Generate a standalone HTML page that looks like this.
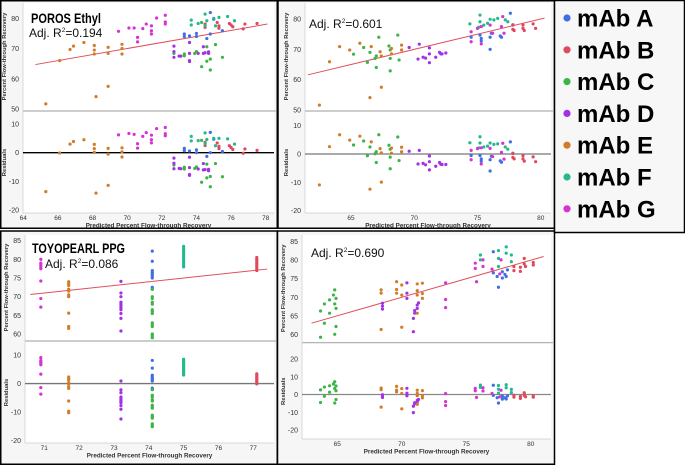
<!DOCTYPE html>
<html><head><meta charset="utf-8"><style>
body{margin:0;background:#fff;}
svg{display:block;font-family:"Liberation Sans",sans-serif;}
</style></head><body>
<svg id="fig" width="685" height="465" viewBox="0 0 685 465" xmlns="http://www.w3.org/2000/svg">
<g id="panels"></g>
<g id="legend">
<rect x="554.5" y="0.5" width="130" height="232" fill="#f7f7f7" stroke="#000" stroke-width="1.5"/>
</g>
</svg>
<script>
// ---- data: [predicted, actual] per mAb, per panel ----
const groups = ["A","B","C","D","E","F","G"];
const groupNames = ["mAb A","mAb B","mAb C","mAb D","mAb E","mAb F","mAb G"];
const colors = {A:"#3f6fe3",B:"#e0485c",C:"#3cb446",D:"#a232e6",E:"#d27c2a",F:"#22b98f",G:"#d632d4"};

const p1A=[[73.3,74.8],[73.3,74],[73.6,74.2],[74,75],[74,74],[74.6,73.3],[74.8,74.8],[74.8,81.9],[75.5,75.9],[75,79.7]];
const p1B=[[74.5,78.1],[74.5,77],[75.2,78.6],[75.3,77.5],[75.3,76.7],[75.9,78.3],[76,77.8],[76.1,77.2],[76.8,78.1],[76.7,76.5],[77.5,78.3]];
const p1C=[[72.7,68.4],[73.3,68.2],[73.3,67.6],[73.9,68.4],[74,69],[74.3,64],[74.6,70.6],[74.6,65.8],[74.8,62.9],[74.8,66.5],[75.1,71.3],[75.5,67.1],[74.3,78.6]];
const p1D=[[72.7,70.8],[72.7,69],[72.7,67.1],[73,67.5],[73.1,67.5],[73.6,72],[73.6,68.4],[73.6,65.7],[73.6,66],[74.1,68.4],[74.4,70.6],[74.4,68.4],[74.5,68.6],[74.7,68.4],[74.7,68.9]];
const p1E=[[65.3,51.7],[66.1,66],[66.7,69.7],[66.9,70.8],[67.5,72],[68.1,71],[68.1,69.5],[68.1,68.2],[68.2,54.1],[68.9,70.4],[68.9,68.4],[68.9,57.5],[69.7,71.4],[69.7,70],[69.7,68.2]];
const p1F=[[73.7,79.4],[73.7,77.8],[74.1,78.3],[74.5,81.4],[74.6,79.2],[75,80],[75.3,80.3],[75.8,80.6],[76.2,79.2],[75.1,77.5],[74.5,77.6]];
const p1G=[[69.5,75.7],[70.1,76.8],[70.4,76.8],[70.6,73.7],[70.6,72.2],[70.9,76.6],[71.1,78.1],[71.4,77.5],[71.4,75.9],[71.4,74.8],[71.7,80.1],[72.2,81],[72.2,78.8],[72.2,78.1]];

const p2A=[[74.5,74],[75.2,74.7],[75.3,73.6],[75.3,72.8],[76,70],[76,74],[76.1,75.3],[76.8,74.4],[76.9,74],[77.6,81.9],[77.8,78.1]];
const p2B=[[77.8,78],[77.8,76.6],[78.6,78],[78.6,76.9],[78.7,76.2],[79.4,78.4],[79.6,76.9],[77.9,76.2]];
const p2C=[[65.2,68.4],[66,70.6],[66.3,65.7],[66.5,69],[66.9,67],[67,64],[67.2,74],[68,71.1],[68.1,69.8],[68.1,67],[68.1,62.9],[68.7,74.7],[68.8,66.5],[67,67.8]];
const p2D=[[69.6,70.6],[70.4,71.7],[70.3,66.8],[70.7,67.4],[70.9,67.1],[71.2,70.5],[71.2,65.6],[71.2,68.5],[71.7,67.4],[72,69],[72.1,68.5],[72.2,68.5],[72.5,68.8]];
const p2E=[[62.5,51.6],[63.3,65.9],[64.1,70.9],[64.9,69.8],[65.7,72],[66.6,70.9],[66.5,54.1],[67.4,57.5],[67.4,67.8],[67.3,69.2],[68.2,68.5],[68.2,70.3],[69,71.4],[69,69.8]];
const p2F=[[74.4,78.4],[75.2,81.3],[75.2,79.1],[75.5,78],[75.8,78.6],[76,79.9],[76.3,79.7],[76.6,80.2],[77.2,79.7],[77.4,79.1],[75.1,77.3]];
const p2G=[[74.5,72.5],[74.5,75.8],[75,76.9],[75.3,77.5],[75.3,71.8],[76,78],[76.2,75.3],[76.9,77.5],[77,80.8],[77.1,75.3]];

const p3A=[[74.1,82.2],[74.1,79.5],[74.1,77],[74.1,76.5],[74.1,76],[74.1,75.5],[74.1,75],[74.1,72.5],[74.1,72]];
const p3B=[[77.1,80.5],[77.1,80],[77.1,79.5],[77.1,79],[77.1,78.5],[77.1,78],[77.1,77.5],[77.1,77]];
const p3C=[[74.1,72],[74.1,70],[74.1,69.5],[74.1,68.5],[74.1,68],[74.1,66.5],[74.1,66],[74.1,65.5],[74.1,63],[74.1,62.5],[74.1,62],[74.1,60],[74.1,59.5],[74.1,59]];
const p3D=[[73.2,74.1],[73.2,71],[73.2,70],[73.2,68.5],[73.2,68],[73.2,67.5],[73.2,67],[73.2,66.5],[73.2,65.5],[73.2,64.2],[73.2,60.8]];
const p3E=[[71.7,74],[71.7,73.5],[71.7,73],[71.7,72],[71.7,71.5],[71.7,70.5],[71.7,70],[71.7,65.6],[71.7,62],[71.7,61.5]];
const p3F=[[75,83.5],[75,83],[75,82.5],[75,82],[75,81.5],[75,81],[75,80.5],[75,80],[75,79.5],[75,79],[75,78.5],[75,78]];
const p3G=[[70.9,80],[70.9,79],[70.9,78.5],[70.9,78],[70.9,77.5],[70.9,74.2],[70.9,69.5],[70.9,67.2]];

const p4A=[[77.1,82.3],[77.4,75.6],[77.5,72.7],[77.8,76.9],[78.1,75.6],[78.2,77.4],[77.8,75.2],[78,76.2],[77.1,76.6]];
const p4B=[[78.7,78.3],[78.7,77.2],[79.2,78.1],[79.2,77],[79.5,80.5],[79.5,79],[79.6,78.3],[80.2,79.4],[80.2,78.7]];
const p4C=[[63.7,66.3],[63.7,59.2],[64,68.2],[64,63],[64.4,69.3],[64.4,65.7],[64.8,72],[64.8,68.2],[64.9,69.7],[64.9,67],[64.9,62.1],[64.8,60],[64.7,70.6]];
const p4D=[[68.5,68.4],[68.5,67.6],[68.5,66.8],[70.4,73.9],[70.4,71.1],[70.4,69.7],[70.9,64.3],[70.9,60.7],[71,65.7],[71.2,67],[71.2,67.9],[71.3,68.5],[71,66.4]];
const p4E=[[68.4,72],[68.4,71.1],[68.4,61.3],[69.6,74.2],[69.6,72.1],[69.6,71.1],[70,73.3],[70,70.6],[70,61.9],[71.2,73.6],[71.2,71.8],[71.2,70.6],[71.2,65.7],[71.6,73.8],[71.6,71],[71.6,69.7]];
const p4F=[[76.1,81.4],[76.1,80.1],[77.5,82.6],[77.5,80.5],[78.1,83.6],[78.1,81.9],[78.5,81.4],[78.5,79.6],[77.5,78.3]];
const p4G=[[73.4,73.9],[73.4,69.4],[73.4,67.2],[75.7,79.2],[75.7,77.8],[75.8,74.2],[76.3,80.1],[76.3,78.3],[77.7,80.1],[77,77.6],[77.6,76.3]];

const p1XTicks=[64,66,68,70,72,74,76,78], p1YTicks=[50,60,70,80], p1RTicks=[-20,-10,0,10];
const p2XTicks=[65,70,75,80], p2YTicks=[50,60,70,80], p2RTicks=[-20,-10,0,10];
const p3XTicks=[71,72,73,74,75,76,77], p3YTicks=[60,65,70,75,80,85], p3RTicks=[-20,-10,0,10];
const p4XTicks=[65,70,75,80], p4YTicks=[60,65,70,75,80,85], p4RTicks=[-20,-10,0,10,20];
const fitRanges=[[64.7,78.1],[61.6,80.3],[70.6,77.4],[63,81]];
const titles=["POROS Ethyl","","TOYOPEARL PPG",""];
const r2Labels=["0.194","0.601","0.086","0.690"];

// ---- layout ----
const NS="http://www.w3.org/2000/svg";
function mk(tag,attrs,parent){const e=document.createElementNS(NS,tag);for(const k in attrs)e.setAttribute(k,attrs[k]);parent.appendChild(e);return e;}
function lin(v0,p0,v1,p1){return v=>p0+(v-v0)*(p1-p0)/(v1-v0);}

const panels=[
 {box:[0.75,0.75,276.5,227.5],pl:23,pr:274,tt:3,tb:110,bt:112,bb:213,x:lin(64,23.3,78,265.7),y:lin(80,18.3,50,109),r:lin(10,124,-20,210),xt:p1XTicks,yt:p1YTicks,rt:p1RTicks,data:[p1A,p1B,p1C,p1D,p1E,p1F,p1G],zero:"#000",tx:31,ty:23,tw:70,rx:29,ry:37},
 {box:[278,0.75,276.5,227.5],pl:305,pr:551,tt:3,tb:110,bt:112,bb:213,x:lin(65,351,80,540.7),y:lin(80,19,50,110),r:lin(10,125.7,-20,210.7),xt:p2XTicks,yt:p2YTicks,rt:p2RTicks,data:[p2A,p2B,p2C,p2D,p2E,p2F,p2G],zero:"#777",rx:309,ry:28},
 {box:[0.75,231,276.5,233.25],pl:25,pr:274,tt:235,tb:340,bt:342,bb:443,x:lin(71,44.3,77,253.3),y:lin(85,240.7,60,334),r:lin(10,355,-20,440.7),xt:p3XTicks,yt:p3YTicks,rt:p3RTicks,data:[p3A,p3B,p3C,p3D,p3E,p3F,p3G],zero:"#777",tx:32,ty:253,tw:93,rx:45,ry:268},
 {box:[277.5,231,277,233.25],pl:302,pr:551,tt:235,tb:341.7,bt:343.5,bb:439,x:lin(65,337.3,80,530.7),y:lin(85,241.7,60,334.3),r:lin(20,359,-20,430),xt:p4XTicks,yt:p4YTicks,rt:p4RTicks,data:[p4A,p4B,p4C,p4D,p4E,p4F,p4G],zero:"#888",rx:311,ry:257}
];

const root=document.getElementById("panels");
panels.forEach((P,i)=>{
 const g=mk("g",{},root);
 
 
 const [bx,by,bw,bh]=P.box;
 mk("rect",{x:bx,y:by,width:bw,height:bh,fill:"#f6f6f6",stroke:"#000","stroke-width":1.5},g);
 const ta=mk("rect",{x:P.pl,y:P.tt,width:P.pr-P.pl,height:P.tb-P.tt,fill:"#fff"},g);
 
 
 const ba=mk("rect",{x:P.pl,y:P.bt,width:P.pr-P.pl,height:P.bb-P.bt,fill:"#fff"},g);
 
 
 mk("line",{x1:P.pl,y1:(P.tb+P.bt)/2,x2:P.pr+2,y2:(P.tb+P.bt)/2,stroke:"#b5b5b5","stroke-width":1.2},g);
 mk("line",{x1:P.pl,y1:P.tt,x2:P.pl,y2:P.bb,stroke:"#ccc","stroke-width":0.7},g);
 mk("line",{x1:P.pl,y1:P.bb,x2:P.pr,y2:P.bb,stroke:"#ccc","stroke-width":0.7},g);
 P.yt.forEach(v=>{const t=mk("text",{x:P.pl-4,y:P.y(v)+2.5,"font-size":7,"text-anchor":"end",fill:"#333"},g);t.textContent=v;
  });
 P.rt.forEach(v=>{const t=mk("text",{x:P.pl-4,y:P.r(v)+2.5,"font-size":7,"text-anchor":"end",fill:"#333"},g);t.textContent=v;
  });
 P.xt.forEach(v=>{const t=mk("text",{x:P.x(v),y:P.bb+7,"font-size":6.5,"text-anchor":"middle",fill:"#333"},g);t.textContent=v;
  });
 const xtitle=mk("text",{x:(P.pl+P.pr)/2,y:P.bb+14.5,"font-size":6.3,"font-weight":"bold","text-anchor":"middle",fill:"#333"},g);
 xtitle.textContent="Predicted Percent Flow-through Recovery";
 
 const ax=P.pl-17;
 const yt=mk("text",{transform:`translate(${ax},${(P.tt+P.tb)/2}) rotate(-90)`,"font-size":5.8,"font-weight":"bold","text-anchor":"middle",fill:"#333"},g);
 yt.textContent="Percent Flow-through Recovery";
 
 const rt=mk("text",{transform:`translate(${ax},${(P.bt+P.bb)/2}) rotate(-90)`,"font-size":5.8,"font-weight":"bold","text-anchor":"middle",fill:"#333"},g);
 rt.textContent="Residuals";
 
 const z=mk("line",{x1:P.pl,y1:P.r(0),x2:P.pr,y2:P.r(0),stroke:P.zero,"stroke-width":1.3},g);
 
 const [f0,f1]=fitRanges[i];
 const fl=mk("line",{x1:P.x(f0),y1:P.y(f0),x2:P.x(f1),y2:P.y(f1),stroke:"#e0505a","stroke-width":1},g);
 
 P.data.forEach((arr,gi)=>{
  const c=colors[groups[gi]];
  arr.forEach(([px,py])=>{
   const a=mk("circle",{cx:P.x(px),cy:P.y(py),r:1.6,fill:c},g);
   
   
   const b=mk("circle",{cx:P.x(px),cy:P.r(py-px),r:1.6,fill:c},g);
   
   
  });
 });
 if(titles[i]){const t=mk("text",{x:P.tx,y:P.ty,"font-size":14,"font-weight":"bold",fill:"#000",textLength:P.tw,lengthAdjust:"spacingAndGlyphs"},g);t.textContent=titles[i];
  }
 const r=mk("text",{x:P.rx,y:P.ry,"font-size":12,fill:"#111"},g);
 r.innerHTML=`Adj. R<tspan dy="-5" font-size="6.5">2</tspan><tspan dy="5">=${r2Labels[i]}</tspan>`;
 
});

const lg=document.getElementById("legend");
groups.forEach((k,i)=>{
 const cy=18+i*31.8;
 const d=mk("circle",{cx:567,cy:cy,r:3.6,fill:colors[k]},lg);
 
 
 const t=mk("text",{x:577,y:cy+8.5,"font-size":24,"font-weight":"bold",fill:"#000"},lg);
 t.textContent=groupNames[i];
 
 
});
</script>
</body></html>
